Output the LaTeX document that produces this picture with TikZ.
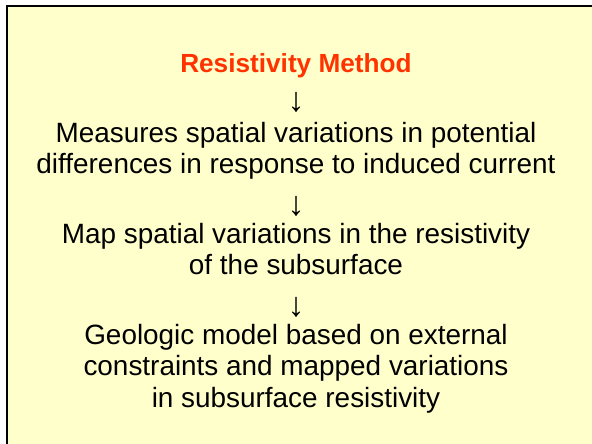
\documentclass[tikz,border=0pt]{standalone}
\usepackage{fontspec}
\setmainfont{Liberation Sans}
\definecolor{bgyellow}{HTML}{FFFFCC}
\definecolor{titlered}{HTML}{FF3300}
\tikzset{
  body/.style={font=\fontsize{27.9}{33}\selectfont, text=black, inner sep=0pt, anchor=base},
  titletext/.style={font=\fontsize{26.2}{31}\selectfont\bfseries, text=titlered, inner sep=0pt, anchor=base},
  arrowtext/.style={font=\fontsize{34}{40}\selectfont, text=black, inner sep=0pt, anchor=center}
}
\begin{document}
\begin{tikzpicture}[x=1pt,y=-1pt]
\useasboundingbox (0,0) rectangle (592,444);
\fill[white] (0,0) rectangle (592,444);
\draw[line width=2.2pt, fill=bgyellow] (7,6) rectangle (600,452);
\node[titletext] (title) at (296,73) {Resistivity Method};
\node[arrowtext] (a1) at (296,102) {↓};
\node[body] (m1) at (296,142) {Measures spatial variations in potential};
\node[body] (m2) at (296,173) {differences in response to induced current};
\node[arrowtext] (a2) at (296,206) {↓};
\node[body] (p1) at (296,243) {Map spatial variations in the resistivity};
\node[body] (p2) at (296,274) {of the subsurface};
\node[arrowtext] (a3) at (296,307) {↓};
\node[body] (g1) at (296,344) {Geologic model based on external};
\node[body] (g2) at (296,375) {constraints and mapped variations};
\node[body] (g3) at (296,407) {in subsurface resistivity};
\end{tikzpicture}
\end{document}
